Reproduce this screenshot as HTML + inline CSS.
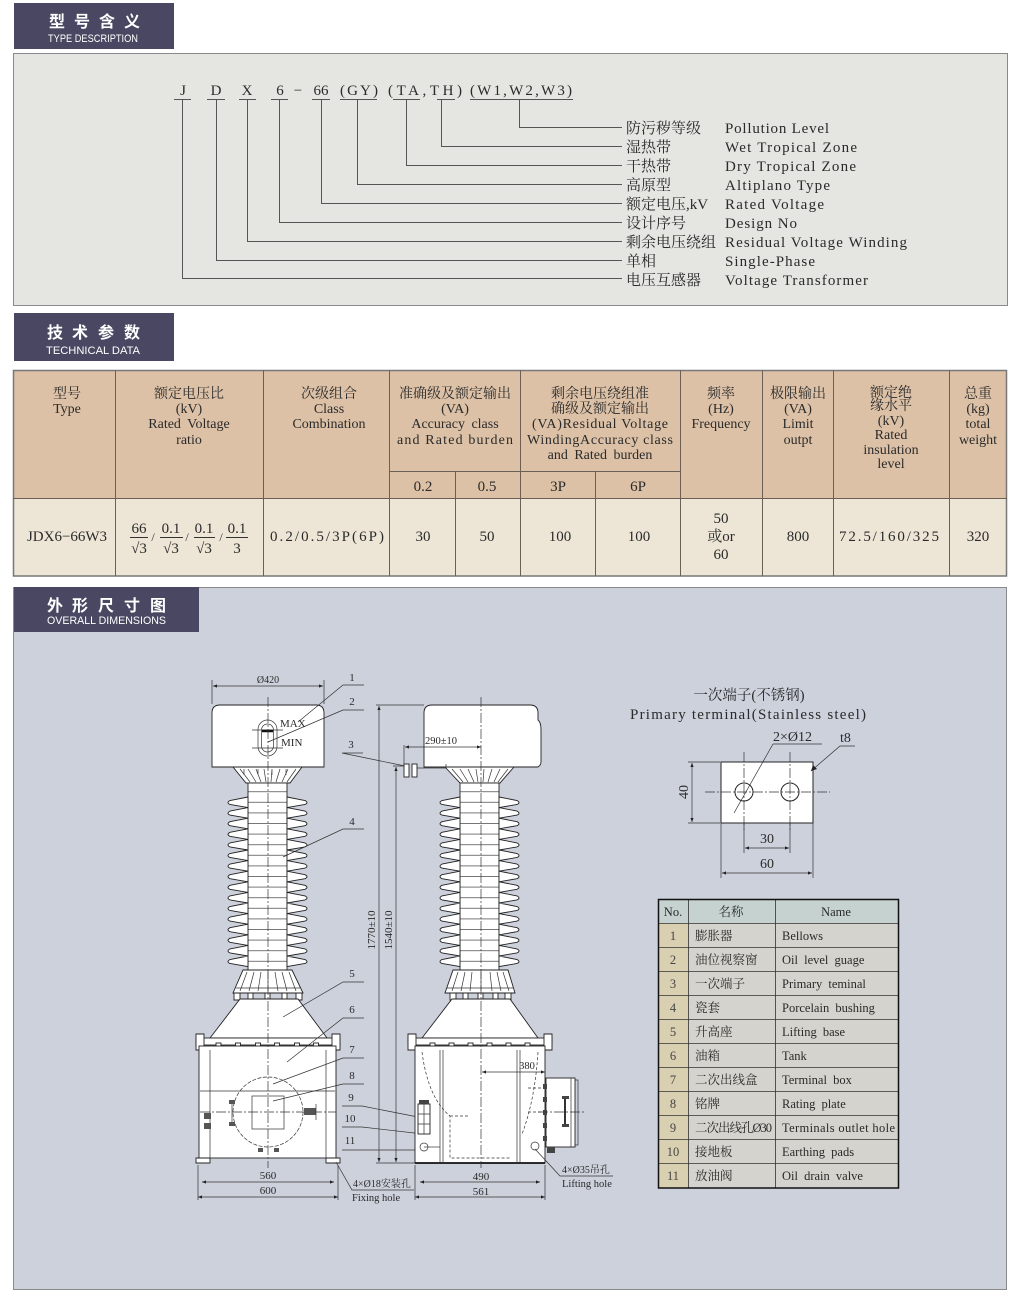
<!DOCTYPE html>
<html><head><meta charset="utf-8"><style>
html,body{margin:0;padding:0;background:#fff;}
svg{display:block;}
.s{font-family:"Liberation Serif","Noto Serif CJK SC",serif;fill:#2a2a2a;}
.h{font-family:"Liberation Sans","Noto Sans CJK SC",sans-serif;fill:#fff;font-weight:bold;}
.he{font-family:"Liberation Sans",sans-serif;fill:#fff;font-weight:normal;}
.ln{stroke:#3a3a3a;stroke-width:1;fill:none;}
.d{stroke:#222;stroke-width:0.9;fill:#fff;}
.t{stroke:#333;stroke-width:0.7;fill:none;}
.cl{stroke:#333;stroke-width:0.7;fill:none;stroke-dasharray:10 2 2 2;}
.dash{stroke:#333;stroke-width:0.7;fill:none;stroke-dasharray:3 2;}
</style></head><body>
<svg width="1021" height="1310" viewBox="0 0 1021 1310" xmlns="http://www.w3.org/2000/svg">
<defs>
<marker id="ar" viewBox="0 0 10 10" refX="10" refY="5" markerWidth="7" markerHeight="4" markerUnits="userSpaceOnUse" orient="auto-start-reverse"><path d="M0,1 L10,5 L0,9z" fill="#222"/></marker>
<pattern id="hl" x="0" y="797" width="60" height="10.6" patternUnits="userSpaceOnUse"><rect width="60" height="10.6" fill="#fff"/><line x1="0" y1="5.3" x2="60" y2="5.3" stroke="#444" stroke-width="0.7"/></pattern>
</defs>

<!-- ============ SECTION 1 ============ -->
<rect x="14" y="3" width="160" height="46" fill="#4a4762"/>
<text class="h" x="49" y="27" font-size="16">型</text><text class="h" x="74" y="27" font-size="16">号</text><text class="h" x="99" y="27" font-size="16">含</text><text class="h" x="124" y="27" font-size="16">义</text>
<text class="he" x="48" y="42" font-size="11" textLength="90" lengthAdjust="spacingAndGlyphs">TYPE DESCRIPTION</text>

<rect x="13.5" y="53.5" width="994" height="252" fill="#e5e6e1" stroke="#8a8a8a" stroke-width="1"/>

<g class="s" font-size="15" text-anchor="middle">
<text x="183" y="95">J</text><text x="216" y="95">D</text><text x="247" y="95">X</text><text x="280" y="95">6</text><text x="298" y="95">−</text><text x="321" y="95">66</text>
<text x="359" y="95" textLength="38" lengthAdjust="spacing">(GY)</text>
<text x="425" y="95" textLength="74" lengthAdjust="spacing">(TA,TH)</text>
<text x="521" y="95" textLength="102" lengthAdjust="spacing">(W1,W2,W3)</text>
</g>
<g stroke="#555" stroke-width="1" fill="none">
<path d="M174 99.5H191M207 99.5H225M239 99.5H256M271 99.5H288M312 99.5H330M340 99.5H377M393 99.5H420M437 99.5H455M470 99.5H573"/>
<path d="M182.5 99.5V278.5H622"/>
<path d="M216.5 99.5V260.5H622"/>
<path d="M247.5 99.5V241.5H622"/>
<path d="M279.5 99.5V222.5H622"/>
<path d="M321.5 99.5V203.5H622"/>
<path d="M357.5 99.5V184.5H622"/>
<path d="M406.5 99.5V165.5H622"/>
<path d="M441.5 99.5V146.5H622"/>
<path d="M519.5 99.5V127.5H622"/>
</g>
<g class="s" font-size="15">
<text x="626" y="133">防污秽等级</text><text x="725" y="133" textLength="104">Pollution Level</text>
<text x="626" y="152">湿热带</text><text x="725" y="152" textLength="132">Wet Tropical Zone</text>
<text x="626" y="171">干热带</text><text x="725" y="171" textLength="131">Dry Tropical Zone</text>
<text x="626" y="190">高原型</text><text x="725" y="190" textLength="105">Altiplano Type</text>
<text x="626" y="209">额定电压,kV</text><text x="725" y="209" textLength="99">Rated Voltage</text>
<text x="626" y="228">设计序号</text><text x="725" y="228" textLength="72">Design No</text>
<text x="626" y="247">剩余电压绕组</text><text x="725" y="247" textLength="182">Residual Voltage Winding</text>
<text x="626" y="266">单相</text><text x="725" y="266" textLength="90">Single-Phase</text>
<text x="626" y="285">电压互感器</text><text x="725" y="285" textLength="143">Voltage Transformer</text>
</g>

<!-- ============ SECTION 2 ============ -->
<rect x="14" y="313" width="160" height="48" fill="#4a4762"/>
<text class="h" x="47" y="338" font-size="16">技</text><text class="h" x="72" y="338" font-size="16">术</text><text class="h" x="98" y="338" font-size="16">参</text><text class="h" x="124" y="338" font-size="16">数</text>
<text class="he" x="46" y="354" font-size="11" textLength="94" lengthAdjust="spacingAndGlyphs">TECHNICAL DATA</text>

<rect x="13" y="370" width="994" height="128" fill="#dcc1a7"/>
<rect x="13" y="498" width="994" height="78" fill="#ede6d7"/>
<g stroke="#6a6055" stroke-width="1" fill="none">
<rect x="13.5" y="370.5" width="993" height="205.5" stroke="#777" stroke-width="1.5"/>
<path d="M13 498.5H1007M389 471.5H680"/>
<path d="M115.5 370V576M263.5 370V576M389.5 370V576M680.5 370V576M762.5 370V576M833.5 370V576M949.5 370V576"/>
<path d="M455.5 471V576M520.5 370V576M595.5 471V576"/>
</g>
<g class="s" font-size="14" text-anchor="middle">
<text x="67" y="398">型号</text><text x="67" y="413">Type</text>
<text x="189" y="398">额定电压比</text><text x="189" y="413">(kV)</text><text x="189" y="428" word-spacing="3">Rated Voltage</text><text x="189" y="444">ratio</text>
<text x="329" y="398">次级组合</text><text x="329" y="413">Class</text><text x="329" y="428">Combination</text>
<text x="455" y="398">准确级及额定输出</text><text x="455" y="413">(VA)</text><text x="455" y="428" word-spacing="3">Accuracy class</text><text x="455" y="444" textLength="116">and Rated burden</text>
<text x="600" y="398">剩余电压绕组准</text><text x="600" y="413">确级及额定输出</text><text x="600" y="428" textLength="136">(VA)Residual Voltage</text><text x="600" y="444" textLength="146">WindingAccuracy class</text><text x="600" y="459" word-spacing="3">and Rated burden</text>
<text x="721" y="398">频率</text><text x="721" y="413">(Hz)</text><text x="721" y="428">Frequency</text>
<text x="798" y="398">极限输出</text><text x="798" y="413">(VA)</text><text x="798" y="428">Limit</text><text x="798" y="444">outpt</text>
<text x="891" y="397">额定绝</text><text x="891" y="410">缘水平</text><text x="891" y="425">(kV)</text><text x="891" y="439">Rated</text><text x="891" y="454">insulation</text><text x="891" y="468">level</text>
<text x="978" y="398">总重</text><text x="978" y="413">(kg)</text><text x="978" y="428">total</text><text x="978" y="444">weight</text>
</g>
<g class="s" font-size="15" text-anchor="middle">
<text x="423" y="491">0.2</text><text x="487" y="491">0.5</text><text x="558" y="491">3P</text><text x="638" y="491">6P</text>
</g>
<g class="s" font-size="15" text-anchor="middle">
<text x="67" y="541">JDX6−66W3</text>
<text x="327" y="541" textLength="114">0.2/0.5/3P(6P)</text>
<text x="423" y="541">30</text><text x="487" y="541">50</text><text x="560" y="541">100</text><text x="639" y="541">100</text>
<text x="721" y="523">50</text><text x="721" y="541">或or</text><text x="721" y="559">60</text>
<text x="798" y="541">800</text><text x="889" y="541" textLength="100">72.5/160/325</text><text x="978" y="541">320</text>
</g>
<g class="s" font-size="15" text-anchor="middle">
<text x="139" y="533">66</text><text x="139" y="553">√3</text>
<text x="171" y="533">0.1</text><text x="171" y="553">√3</text>
<text x="204" y="533">0.1</text><text x="204" y="553">√3</text>
<text x="237" y="533">0.1</text><text x="237" y="553">3</text>
<text x="153" y="541" font-size="12">/</text><text x="187" y="541" font-size="12">/</text><text x="221" y="541" font-size="12">/</text>
</g>
<path d="M130 537.5H148M160 537.5H183M194 537.5H215M226 537.5H248" stroke="#333" stroke-width="0.9"/>

<!-- ============ SECTION 3 ============ -->
<rect x="13.5" y="587.5" width="993" height="702" fill="#cdd1dc" stroke="#8a8a8a" stroke-width="1"/>
<rect x="14" y="587" width="185" height="45" fill="#4a4762"/>
<text class="h" x="47" y="611" font-size="16">外</text><text class="h" x="72" y="611" font-size="16">形</text><text class="h" x="98" y="611" font-size="16">尺</text><text class="h" x="124" y="611" font-size="16">寸</text><text class="h" x="150" y="611" font-size="16">图</text>
<text class="he" x="47" y="624" font-size="11" textLength="119" lengthAdjust="spacingAndGlyphs">OVERALL DIMENSIONS</text>

<!-- ===== LEFT VIEW ===== -->
<path class="d" d="M212 767V713Q212 705 220 705H316Q324 705 324 713V767Z"/>
<rect class="t" x="258" y="720" width="19" height="36" rx="9.5"/>
<rect class="t" x="261.5" y="724" width="12" height="28" rx="6"/>
<path class="t" d="M252 730H283M252 748H283"/>
<path d="M262 731H273" stroke="#111" stroke-width="2.5"/>
<text class="s" x="280" y="727" font-size="11">MAX</text>
<text class="s" x="281" y="746" font-size="11">MIN</text>
<path class="d" d="M233 767H302L290 783H246Z"/>
<path class="t" d="M240 769L250 782M248 769L256 782M256 769L261 782M264 769L266 782M272 769L271 782M280 769L276 782M288 769L282 782M296 769L287 782M244 769V775M258 769V775M272 769V775M286 769V775"/>
<rect x="248" y="783" width="39" height="192" fill="url(#hl)" stroke="#222" stroke-width="0.9"/>
<path class="d" d="M248 797l-18 3.5q-4 2.2 0 4l18 3.1l-18 3.5q-4 2.2 0 4l18 3.1l-18 3.5q-4 2.2 0 4l18 3.1l-18 3.5q-4 2.2 0 4l18 3.1l-18 3.5q-4 2.2 0 4l18 3.1l-18 3.5q-4 2.2 0 4l18 3.1l-18 3.5q-4 2.2 0 4l18 3.1l-18 3.5q-4 2.2 0 4l18 3.1l-18 3.5q-4 2.2 0 4l18 3.1l-18 3.5q-4 2.2 0 4l18 3.1l-18 3.5q-4 2.2 0 4l18 3.1l-18 3.5q-4 2.2 0 4l18 3.1l-18 3.5q-4 2.2 0 4l18 3.1l-18 3.5q-4 2.2 0 4l18 3.1l-18 3.5q-4 2.2 0 4l18 3.1l-18 3.5q-4 2.2 0 4l18 3.1Z"/>
<path class="d" d="M287 797l18 3.5q4 2.2 0 4l-18 3.1l18 3.5q4 2.2 0 4l-18 3.1l18 3.5q4 2.2 0 4l-18 3.1l18 3.5q4 2.2 0 4l-18 3.1l18 3.5q4 2.2 0 4l-18 3.1l18 3.5q4 2.2 0 4l-18 3.1l18 3.5q4 2.2 0 4l-18 3.1l18 3.5q4 2.2 0 4l-18 3.1l18 3.5q4 2.2 0 4l-18 3.1l18 3.5q4 2.2 0 4l-18 3.1l18 3.5q4 2.2 0 4l-18 3.1l18 3.5q4 2.2 0 4l-18 3.1l18 3.5q4 2.2 0 4l-18 3.1l18 3.5q4 2.2 0 4l-18 3.1l18 3.5q4 2.2 0 4l-18 3.1l18 3.5q4 2.2 0 4l-18 3.1Z"/>
<path class="d" d="M243 970H292L303 993H233Z"/>
<path class="t" d="M247 972L240 991M254 972L249 991M261 972L258 991M268 972V991M275 972L278 991M282 972L287 991M289 972L296 991M236 988H300"/>
<path class="d" d="M234 993h6v7h-6zM248 993h5v6h-5zM265 993h5v6h-5zM282 993h5v6h-5zM296 993h6v7h-6z" fill="#888"/>
<path class="d" d="M240 999H298L327 1038H210Z"/>
<rect class="d" x="196" y="1038" width="144" height="7"/>
<path class="d" d="M196 1034h8v16h-8zM332 1034h8v16h-8z" fill="#999"/>
<g class="d" fill="#999"><rect x="216" y="1043" width="5" height="11"/><rect x="235.5" y="1043" width="5" height="11"/><rect x="255.5" y="1043" width="5" height="11"/><rect x="274.5" y="1043" width="5" height="11"/><rect x="294.5" y="1043" width="5" height="11"/><rect x="313.5" y="1043" width="5" height="11"/></g>
<rect class="d" x="199" y="1046" width="137" height="112"/>
<path class="t" d="M210 1050V1158M326 1050V1158M200 1091H335"/>
<path class="d" d="M196 1158h14v5h-14zM326 1158h14v5h-14z"/>
<circle class="t" cx="268" cy="1112" r="35" stroke-dasharray="4 1.5"/>
<rect class="t" x="252" y="1096" width="32" height="33"/>
<path class="cl" d="M200 1112H336"/>
<path class="t" d="M232 1102V1124" stroke-width="2"/>
<path d="M229 1100h6v4h-6zM229 1122h6v4h-6zM304 1108h12v7h-12zM258 1148h5v4h-5zM274 1148h5v4h-5zM204 1113h7v6h-7zM204 1123h7v6h-7z" fill="#555"/>
<path class="t" d="M316 1104V1120"/>
<path class="cl" d="M268 697V1168"/>
<path class="t" d="M212 680V704M324 680V704"/>
<path class="t" d="M213 686H323" marker-start="url(#ar)" marker-end="url(#ar)"/>
<text class="s" x="268" y="683" font-size="10" text-anchor="middle">Ø420</text>
<path class="t" d="M198 1165V1200M338 1165V1200"/>
<path class="t" d="M202 1182H334" marker-start="url(#ar)" marker-end="url(#ar)"/>
<path class="t" d="M198 1197H338" marker-start="url(#ar)" marker-end="url(#ar)"/>
<text class="s" x="268" y="1179" font-size="11" text-anchor="middle">560</text>
<text class="s" x="268" y="1194" font-size="11" text-anchor="middle">600</text>
<path class="t" d="M336 1162L352 1190H414"/>
<text class="s" x="353" y="1187" font-size="10">4×Ø18安装孔</text>
<text class="s" x="352" y="1201" font-size="10.5">Fixing hole</text>

<path class="t" d="M376 705H424M393 766H405M376 1163H415"/>
<path class="t" d="M379 706V1162" marker-start="url(#ar)" marker-end="url(#ar)"/>
<path class="t" d="M396 767V1162" marker-start="url(#ar)" marker-end="url(#ar)"/>
<text class="s" font-size="11" text-anchor="middle" transform="translate(375 930) rotate(-90)">1770±10</text>
<text class="s" font-size="11" text-anchor="middle" transform="translate(392 930) rotate(-90)">1540±10</text>

<g class="s" font-size="11" text-anchor="middle">
<text x="352" y="681">1</text><text x="352" y="705">2</text><text x="351" y="748">3</text><text x="352" y="825">4</text>
<text x="352" y="977">5</text><text x="352" y="1013">6</text><text x="352" y="1053">7</text><text x="352" y="1079">8</text>
<text x="351" y="1101">9</text><text x="350" y="1122">10</text><text x="350" y="1144">11</text>
</g>
<g class="t">
<path d="M364 685H343L298 722"/>
<path d="M364 710H343L268 742"/>
<path d="M363 753H342L405 766"/>
<path d="M364 829H343L283 857"/>
<path d="M364 982H343L283 1017"/>
<path d="M364 1018H343L287 1062"/>
<path d="M364 1058H343L273 1084"/>
<path d="M364 1084H343L273 1101"/>
<path d="M342 1106H362L423 1118L547 1140"/>
<path d="M342 1127H362L423 1134"/>
<path d="M342 1150H422"/>
</g>

<!-- ===== RIGHT VIEW ===== -->
<path class="d" d="M424 767V713Q424 705 432 705H530Q538 705 538 713V720Q541 722 541 730V762Q541 765 538 767Z"/>
<path class="t" d="M416 768H446V764"/>
<rect class="d" x="404" y="764" width="5" height="13" fill="#777"/><rect class="d" x="412" y="764" width="5" height="13" fill="#777"/>
<path class="t" d="M404 745V765"/>
<path class="t" d="M405 747H481" marker-start="url(#ar)" marker-end="url(#ar)"/>
<text class="s" x="425" y="744" font-size="10.5">290±10</text>
<path class="d" d="M445 767H514L500 783H460Z"/>
<path class="t" d="M452 769L463 782M460 769L468 782M468 769L474 782M476 769L478 782M484 769L483 782M492 769L488 782M500 769L494 782M508 769L498 782"/>
<rect x="460" y="783" width="39" height="192" fill="url(#hl)" stroke="#222" stroke-width="0.9"/>
<path class="d" d="M460 797l-18 3.5q-4 2.2 0 4l18 3.1l-18 3.5q-4 2.2 0 4l18 3.1l-18 3.5q-4 2.2 0 4l18 3.1l-18 3.5q-4 2.2 0 4l18 3.1l-18 3.5q-4 2.2 0 4l18 3.1l-18 3.5q-4 2.2 0 4l18 3.1l-18 3.5q-4 2.2 0 4l18 3.1l-18 3.5q-4 2.2 0 4l18 3.1l-18 3.5q-4 2.2 0 4l18 3.1l-18 3.5q-4 2.2 0 4l18 3.1l-18 3.5q-4 2.2 0 4l18 3.1l-18 3.5q-4 2.2 0 4l18 3.1l-18 3.5q-4 2.2 0 4l18 3.1l-18 3.5q-4 2.2 0 4l18 3.1l-18 3.5q-4 2.2 0 4l18 3.1l-18 3.5q-4 2.2 0 4l18 3.1Z"/>
<path class="d" d="M499 797l18 3.5q4 2.2 0 4l-18 3.1l18 3.5q4 2.2 0 4l-18 3.1l18 3.5q4 2.2 0 4l-18 3.1l18 3.5q4 2.2 0 4l-18 3.1l18 3.5q4 2.2 0 4l-18 3.1l18 3.5q4 2.2 0 4l-18 3.1l18 3.5q4 2.2 0 4l-18 3.1l18 3.5q4 2.2 0 4l-18 3.1l18 3.5q4 2.2 0 4l-18 3.1l18 3.5q4 2.2 0 4l-18 3.1l18 3.5q4 2.2 0 4l-18 3.1l18 3.5q4 2.2 0 4l-18 3.1l18 3.5q4 2.2 0 4l-18 3.1l18 3.5q4 2.2 0 4l-18 3.1l18 3.5q4 2.2 0 4l-18 3.1l18 3.5q4 2.2 0 4l-18 3.1Z"/>
<path class="d" d="M453 970H508L515 993H445Z"/>
<path class="t" d="M458 972L452 991M465 972L461 991M472 972L470 991M481 972V991M490 972L492 991M497 972L501 991M503 972L509 991M447 988H513"/>
<path class="d" d="M450 993h6v7h-6zM463 993h5v6h-5zM478 993h5v6h-5zM493 993h5v6h-5zM505 993h6v7h-6z" fill="#888"/>
<path class="d" d="M452 999H510L538 1038H422Z"/>
<rect class="d" x="408" y="1038" width="144" height="7"/>
<path class="d" d="M408 1034h8v16h-8zM544 1034h8v16h-8z" fill="#999"/>
<g class="d" fill="#999"><rect x="430" y="1043" width="5" height="11"/><rect x="449" y="1043" width="5" height="11"/><rect x="468" y="1043" width="5" height="11"/><rect x="487" y="1043" width="5" height="11"/><rect x="506" y="1043" width="5" height="11"/><rect x="525" y="1043" width="5" height="11"/></g>
<rect class="d" x="415" y="1046" width="130" height="117"/>
<path d="M415 1163H545" stroke="#111" stroke-width="1.8"/>
<path class="t" d="M440 1050V1163M443 1050V1163M517 1050V1163M520 1050V1163"/>
<path class="dash" d="M422 1052Q428 1098 450 1116V1158H510M538 1052Q535 1100 522 1134M450 1116H470M528 1112H545M528 1088H545"/>
<rect class="d" x="418" y="1104" width="12" height="30"/>
<path class="t" d="M418 1114H430M418 1124H430M424 1104V1134"/>
<rect x="419" y="1100" width="10" height="4" fill="#444"/>
<circle class="t" cx="424" cy="1147" r="4"/><circle class="t" cx="535" cy="1146" r="4"/>
<path class="t" d="M424 1147H440"/>
<rect class="d" x="546" y="1078" width="29" height="69"/>
<path class="t" d="M571 1078V1147M575 1080H578V1145H575"/>
<path d="M565 1098V1125" stroke="#333" stroke-width="2"/>
<path d="M562 1096h7v3h-7zM562 1124h7v3h-7zM543 1084h4v5h-4zM543 1097h4v5h-4zM543 1110h4v5h-4zM543 1123h4v5h-4zM543 1136h4v5h-4zM547 1147h8v6h-8z" fill="#444"/>
<path class="cl" d="M481 697V1168M538 1112H586"/>
<path class="t" d="M482 1072H545" marker-start="url(#ar)" marker-end="url(#ar)"/>
<text class="s" x="527" y="1069" font-size="10.5" text-anchor="middle">380</text>
<path class="t" d="M415 1165V1200M545 1165V1200"/>
<path class="t" d="M420 1182H540" marker-start="url(#ar)" marker-end="url(#ar)"/>
<path class="t" d="M415 1197H545" marker-start="url(#ar)" marker-end="url(#ar)"/>
<text class="s" x="481" y="1180" font-size="11" text-anchor="middle">490</text>
<text class="s" x="481" y="1195" font-size="11" text-anchor="middle">561</text>
<path class="t" d="M535 1149L560 1176H613"/>
<text class="s" x="562" y="1173" font-size="10">4×Ø35吊孔</text>
<text class="s" x="562" y="1187" font-size="10.5">Lifting hole</text>

<!-- ===== PRIMARY TERMINAL ===== -->
<text class="s" x="749" y="700" font-size="14.5" text-anchor="middle">一次端子(不锈钢)</text>
<text class="s" x="630" y="719" font-size="15" textLength="236">Primary terminal(Stainless steel)</text>
<text class="s" x="773" y="741" font-size="14">2×Ø12</text>
<text class="s" x="840" y="742" font-size="14">t8</text>
<rect x="721" y="762" width="92" height="61" fill="#fff" stroke="#222" stroke-width="1"/>
<circle cx="744" cy="792" r="9" fill="#fff" stroke="#222" stroke-width="1"/>
<circle cx="790" cy="792" r="9" fill="#fff" stroke="#222" stroke-width="1"/>
<path class="cl" d="M705 792H830M744 752V830M790 752V830"/>
<path class="t" d="M773 744H822M773 744L734 813"/>
<path class="t" d="M855 746H840L811 771"/>
<path d="M811 771l2 -6l4 4z" fill="#222"/>
<path class="t" d="M688 762H720M688 823H720"/>
<path class="t" d="M692 763V822" marker-start="url(#ar)" marker-end="url(#ar)"/>
<text class="s" font-size="14" text-anchor="middle" transform="translate(688 792) rotate(-90)">40</text>
<path class="t" d="M744 823V853M790 823V853M721 823V878M813 823V878"/>
<path class="t" d="M745 848H789" marker-start="url(#ar)" marker-end="url(#ar)"/>
<path class="t" d="M722 873H812" marker-start="url(#ar)" marker-end="url(#ar)"/>
<text class="s" x="767" y="843" font-size="14" text-anchor="middle">30</text>
<text class="s" x="767" y="868" font-size="14" text-anchor="middle">60</text>

<!-- ===== PARTS TABLE ===== -->
<rect x="658" y="899" width="240" height="24" fill="#c5d2cf"/>
<rect x="658" y="923" width="30" height="265" fill="#d9d0b1"/>
<rect x="688" y="923" width="210" height="265" fill="#d4d3cd"/>
<g stroke="#333" stroke-width="0.8">
<path d="M658 923.5H898M658 947.5H898M658 971.5H898M658 995.5H898M658 1019.5H898M658 1043.5H898M658 1067.5H898M658 1091.5H898M658 1115.5H898M658 1139.5H898M658 1163.5H898"/>
<path d="M688.5 899V1188M775.5 899V1188"/>
</g>
<rect x="658.5" y="899.5" width="240" height="288.5" fill="none" stroke="#111" stroke-width="1.5"/>
<g class="s" font-size="12.5">
<text x="673" y="916" text-anchor="middle">No.</text><text x="731" y="916" text-anchor="middle">名称</text><text x="836" y="916" text-anchor="middle">Name</text>
<g text-anchor="middle" fill="#444">
<text x="673" y="940">1</text><text x="673" y="964">2</text><text x="673" y="988">3</text><text x="673" y="1012">4</text><text x="673" y="1036">5</text><text x="673" y="1060">6</text><text x="673" y="1084">7</text><text x="673" y="1108">8</text><text x="673" y="1132">9</text><text x="673" y="1156">10</text><text x="673" y="1180">11</text>
</g>
<text x="695" y="940">膨胀器</text><text x="782" y="940">Bellows</text>
<text x="695" y="964">油位视察窗</text><text x="782" y="964" word-spacing="3">Oil level guage</text>
<text x="695" y="988">一次端子</text><text x="782" y="988" word-spacing="3">Primary teminal</text>
<text x="695" y="1012">瓷套</text><text x="782" y="1012" word-spacing="3">Porcelain bushing</text>
<text x="695" y="1036">升高座</text><text x="782" y="1036" word-spacing="3">Lifting base</text>
<text x="695" y="1060">油箱</text><text x="782" y="1060">Tank</text>
<text x="695" y="1084">二次出线盒</text><text x="782" y="1084" word-spacing="3">Terminal box</text>
<text x="695" y="1108">铭牌</text><text x="782" y="1108" word-spacing="3">Rating plate</text>
<text x="695" y="1132" textLength="77">二次出线孔Ø30</text><text x="782" y="1132" textLength="113">Terminals outlet hole</text>
<text x="695" y="1156">接地板</text><text x="782" y="1156" word-spacing="3">Earthing pads</text>
<text x="695" y="1180">放油阀</text><text x="782" y="1180" word-spacing="3">Oil drain valve</text>
</g>
</svg>
</body></html>
